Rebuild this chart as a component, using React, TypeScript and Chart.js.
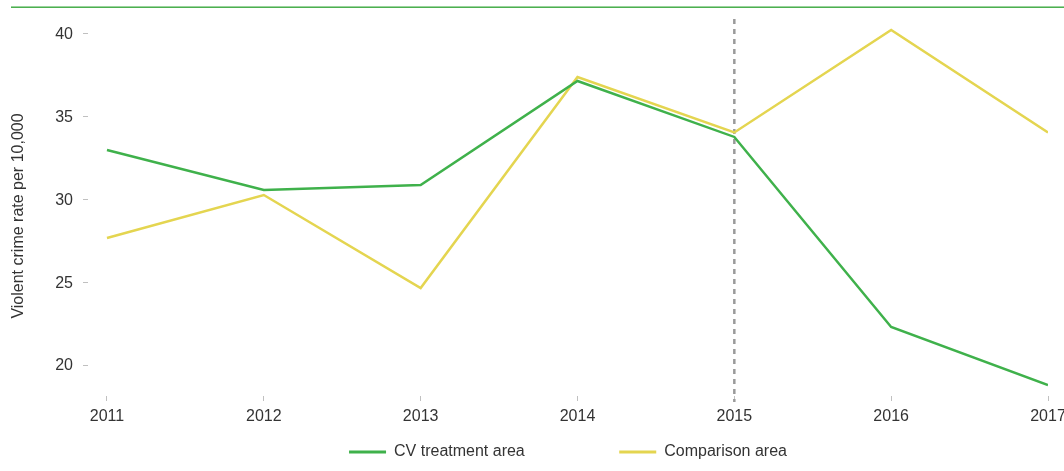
import React, { useEffect, useRef } from 'react';
import { Chart, registerables } from 'chart.js';

Chart.register(...registerables);

const years = [2011, 2012, 2013, 2014, 2015, 2016, 2017];
const treatment = [32.99, 30.57, 30.88, 37.16, 33.78, 22.3, 18.79];
const comparison = [27.67, 30.27, 24.65, 37.4, 34.05, 40.24, 34.05];
const yTicks = [20, 25, 30, 35, 40];
const seriesNames = ['CV treatment area', 'Comparison area'];
const interventionYear = 2015;
const yTitle = 'Violent crime rate per 10,000';

const FONT = '"Liberation Sans", Arial, sans-serif';
const GREEN = '#3fb14b';
const YELLOW = '#e4d550';
const TEXT = '#333333';
const TICK = '#c0c0c0';

const decor = {
  id: 'decor',
  beforeDraw(chart: any) {
    const ctx = chart.ctx;
    ctx.save();
    ctx.fillStyle = '#9ad39c';
    ctx.fillRect(11, 6, chart.width - 11, 1);
    ctx.fillStyle = '#4caf50';
    ctx.fillRect(11, 7, chart.width - 11, 1);
    ctx.restore();
  },
  beforeDatasetsDraw(chart: any) {
    const ctx = chart.ctx;
    const xs = chart.scales.x;
    const x = xs.getPixelForValue(interventionYear);
    const { top, bottom } = chart.chartArea;
    ctx.save();
    ctx.strokeStyle = '#9a9a9a';
    ctx.lineWidth = 2.5;
    ctx.setLineDash([5, 5]);
    ctx.beginPath();
    ctx.moveTo(x, top);
    ctx.lineTo(x, bottom + 6);
    ctx.stroke();
    ctx.restore();
  },
  afterDraw(chart: any) {
    const ctx = chart.ctx;
    ctx.save();
    ctx.translate(18.5, 216);
    ctx.rotate(-Math.PI / 2);
    ctx.font = `16px ${FONT}`;
    ctx.fillStyle = TEXT;
    ctx.textAlign = 'center';
    ctx.textBaseline = 'middle';
    ctx.fillText(yTitle, 0, 0);
    ctx.restore();
  },
};

export default function App() {
  const ref = useRef<HTMLCanvasElement | null>(null);

  useEffect(() => {
    if (!ref.current) return;
    const colors = [GREEN, YELLOW];
    const chart = new Chart(ref.current, {
      type: 'line',
      data: {
        datasets: [
          {
            label: seriesNames[0],
            data: years.map((y, i) => ({ x: y, y: treatment[i] })),
            borderColor: GREEN,
            backgroundColor: GREEN,
            borderWidth: 2.5,
            pointRadius: 0,
            tension: 0,
          },
          {
            label: seriesNames[1],
            data: years.map((y, i) => ({ x: y, y: comparison[i] })),
            borderColor: YELLOW,
            backgroundColor: YELLOW,
            borderWidth: 2.5,
            pointRadius: 0,
            tension: 0,
          },
        ],
      },
      options: {
        animation: false,
        responsive: true,
        maintainAspectRatio: false,
        layout: { padding: { top: 19, right: 0, bottom: 1, left: 0 } },
        plugins: {
          tooltip: { enabled: false },
          legend: {
            position: 'bottom',
            fullSize: false,
            labels: {
              boxWidth: 37,
              boxHeight: 3,
              padding: 10,
              color: TEXT,
              font: { family: FONT, size: 16 },
              generateLabels: () =>
                seriesNames.map((n, i) => ({
                  text: i === 0 ? n + ' '.repeat(19) : n,
                  fillStyle: colors[i],
                  strokeStyle: colors[i],
                  lineWidth: 0,
                  fontColor: TEXT,
                  datasetIndex: i,
                  hidden: false,
                })),
            },
          },
        },
        scales: {
          x: {
            type: 'linear',
            min: 2010.879,
            max: 2017,
            afterBuildTicks: (s: any) => {
              s.ticks = years.map((v) => ({ value: v }));
            },
            afterFit: (s: any) => {
              s.height = 38;
              s.paddingRight = 16;
              s.paddingLeft = 0;
            },
            grid: {
              drawOnChartArea: false,
              drawTicks: true,
              tickLength: 5,
              color: TICK,
            },
            border: { display: false },
            ticks: {
              padding: 6,
              color: TEXT,
              font: { family: FONT, size: 16 },
              maxRotation: 0,
              autoSkip: false,
              callback: (v: any) => String(v),
            },
          },
          y: {
            type: 'linear',
            min: 18.127,
            max: 40.906,
            afterBuildTicks: (s: any) => {
              s.ticks = yTicks.map((v) => ({ value: v }));
            },
            afterFit: (s: any) => {
              s.width = 88;
              s.paddingTop = 0;
              s.paddingBottom = 0;
            },
            grid: {
              drawOnChartArea: false,
              drawTicks: true,
              tickLength: 5,
              color: TICK,
            },
            border: { display: false },
            ticks: {
              padding: 10,
              labelOffset: 1,
              color: TEXT,
              font: { family: FONT, size: 16 },
              callback: (v: any) => String(v),
            },
          },
        },
      },
      plugins: [decor],
    } as any);
    return () => chart.destroy();
  }, []);

  return (
    <div style={{ position: 'absolute', left: 0, top: 0, width: 1064, height: 471, background: '#fff' }}>
      <canvas ref={ref} />
    </div>
  );
}
